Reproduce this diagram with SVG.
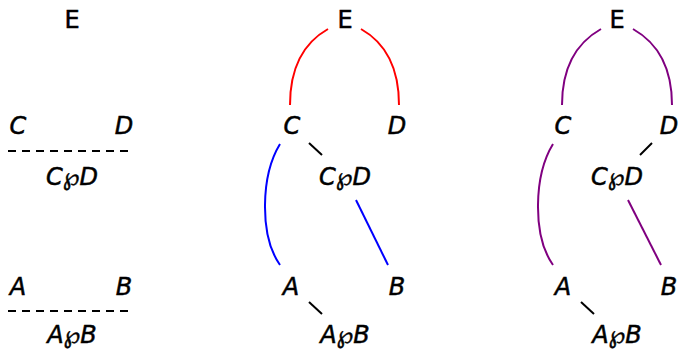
<svg xmlns="http://www.w3.org/2000/svg" width="680" height="350" viewBox="0 0 680 350">
<style>
text{font-family:"DejaVu Sans",sans-serif;fill:#000;stroke:#000;stroke-width:0.5;text-anchor:middle}
.i{font-style:italic;font-size:24px}
.u{font-size:24px}
.c{fill:none;stroke-width:2}
.k{stroke:#000}
.r{stroke:#f00}
.b{stroke:#00f}
.p{stroke:#800080}
.d{stroke:#000;stroke-width:2;stroke-dasharray:8,6}
</style>
<g id="connectors">
<line class="c d" x1="8" y1="151" x2="130" y2="151"/>
<line class="c d" x1="8" y1="311" x2="130" y2="311"/>
<path class="c r" d="M328,29 C305,42 290,65 290,105"/>
<path class="c r" d="M361,29 C384,42 399,65 399,105"/>
<line class="c k" x1="309" y1="143" x2="322" y2="155"/>
<path class="c b" d="M280,144 C261,175 259,235 280,265"/>
<line class="c b" x1="356" y1="200" x2="388" y2="265"/>
<line class="c k" x1="309" y1="302" x2="322" y2="314"/>
<path class="c p" d="M601,29 C578,42 562,65 562,105"/>
<path class="c p" d="M633,29 C656,42 672,65 672,105"/>
<line class="c k" x1="652" y1="143" x2="640" y2="155"/>
<path class="c p" d="M553,144 C534,175 532,235 553,265"/>
<line class="c p" x1="628" y1="200" x2="661" y2="265"/>
<line class="c k" x1="581" y1="302" x2="594" y2="314"/>
</g>
<g id="l-E"><text class="u" x="72" y="28">E</text></g>
<g id="l-C"><text class="i" x="18" y="134">C</text></g>
<g id="l-D"><text class="i" x="124" y="134">D</text></g>
<g id="l-CD"><text class="i" x="72" y="185">C℘D</text></g>
<g id="l-A"><text class="i" x="18" y="295">A</text></g>
<g id="l-B"><text class="i" x="124" y="295">B</text></g>
<g id="l-AB"><text class="i" x="72" y="343">A℘B</text></g>
<g id="m-E"><text class="u" x="345" y="28">E</text></g>
<g id="m-C"><text class="i" x="292" y="134">C</text></g>
<g id="m-D"><text class="i" x="397" y="134">D</text></g>
<g id="m-CD"><text class="i" x="345" y="185">C℘D</text></g>
<g id="m-A"><text class="i" x="291" y="295">A</text></g>
<g id="m-B"><text class="i" x="397" y="295">B</text></g>
<g id="m-AB"><text class="i" x="345" y="343">A℘B</text></g>
<g id="r-E"><text class="u" x="617" y="28">E</text></g>
<g id="r-C"><text class="i" x="563" y="134">C</text></g>
<g id="r-D"><text class="i" x="669" y="134">D</text></g>
<g id="r-CD"><text class="i" x="617" y="185">C℘D</text></g>
<g id="r-A"><text class="i" x="563" y="295">A</text></g>
<g id="r-B"><text class="i" x="669" y="295">B</text></g>
<g id="r-AB"><text class="i" x="617" y="343">A℘B</text></g>
</svg>
